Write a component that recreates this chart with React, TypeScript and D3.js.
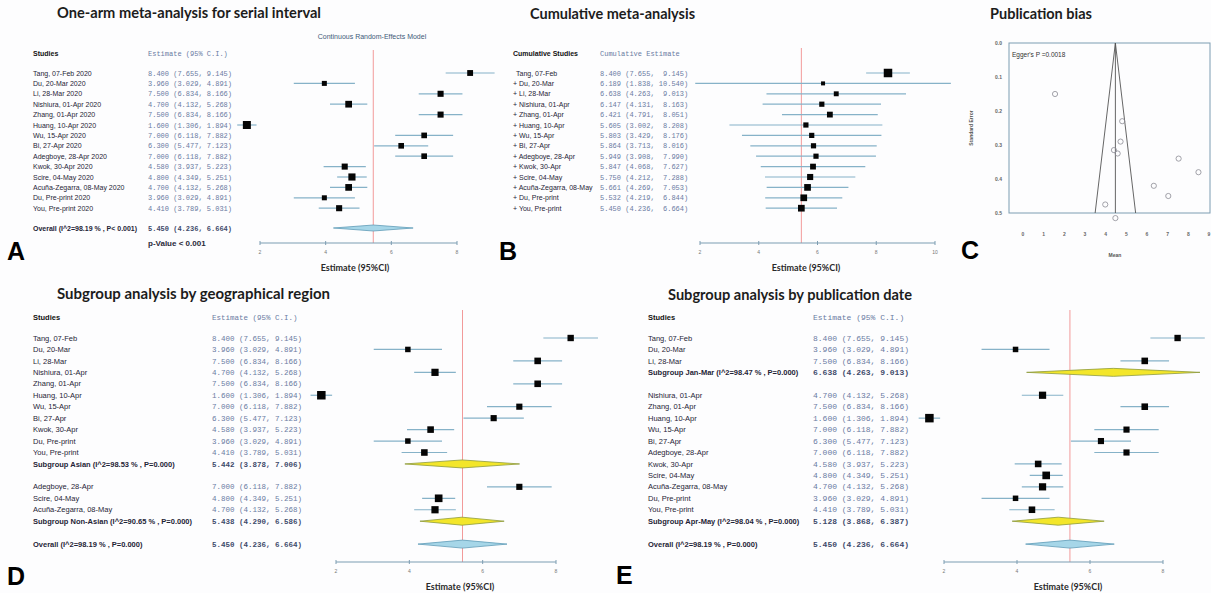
import * as d3 from 'd3'

// ---- study level data (serial interval, days) ----
const studyNames = ['Tang, 07-Feb', 'Du, 20-Mar', 'Li, 28-Mar', 'Nishiura, 01-Apr', 'Zhang, 01-Apr', 'Huang, 10-Apr', 'Wu, 15-Apr', 'Bi, 27-Apr', 'Adegboye, 28-Apr', 'Kwok, 30-Apr', 'Scire, 04-May', 'Acuña-Zegarra, 08-May', 'Du, Pre-print', 'You, Pre-print']
const estimate = [8.4, 3.96, 7.5, 4.7, 7.5, 1.6, 7.0, 6.3, 7.0, 4.58, 4.8, 4.7, 3.96, 4.41]
const lower = [7.655, 3.029, 6.834, 4.132, 6.834, 1.306, 6.118, 5.477, 6.118, 3.937, 4.349, 4.132, 3.029, 3.789]
const upper = [9.145, 4.891, 8.166, 5.268, 8.166, 1.894, 7.882, 7.123, 7.882, 5.223, 5.251, 5.268, 4.891, 5.031]
const weight = [7.0, 6.6, 7.1, 7.4, 7.1, 8.0, 6.9, 6.9, 6.9, 7.1, 7.6, 7.4, 6.6, 7.1]

// cumulative meta-analysis
const cumEstimate = [8.4, 6.189, 6.638, 6.147, 6.421, 5.605, 5.803, 5.864, 5.949, 5.847, 5.75, 5.661, 5.532, 5.45]
const cumLower = [7.655, 1.838, 4.263, 4.131, 4.791, 3.002, 3.429, 3.713, 3.908, 4.068, 4.212, 4.269, 4.219, 4.236]
const cumUpper = [9.145, 10.54, 9.013, 8.163, 8.051, 8.208, 8.176, 8.016, 7.99, 7.627, 7.288, 7.053, 6.844, 6.664]
const cumWeight = [9.5, 2, 3.5, 4, 5, 4, 4, 4, 4, 5, 5.5, 6.5, 6.5, 6.5]

// pooled
const overall = [5.45, 4.236, 6.664]
const overallI2 = 98.19

// subgroups by region
const regionNames = ['Asian', 'Non-Asian']
const regionMembers = [[0, 1, 2, 3, 4, 5, 6, 7, 9, 12, 13], [8, 10, 11]]
const regionI2 = [98.53, 90.65]
const regionEstimate = [5.442, 5.438]
const regionLower = [3.878, 4.29]
const regionUpper = [7.006, 6.586]

// subgroups by publication date
const periodNames = ['Jan-Mar', 'Apr-May']
const periodMembers = [[0, 1, 2], [3, 4, 5, 6, 7, 8, 9, 10, 11, 12, 13]]
const periodI2 = [98.47, 98.04]
const periodEstimate = [6.638, 5.128]
const periodLower = [4.263, 3.868]
const periodUpper = [9.013, 6.387]

// funnel plot
const funnelMean = [1.55, 4.8, 4.72, 4.4, 4.58, 3.98, 4.47, 6.33, 7.03, 7.53, 8.49]
const funnelSE = [0.15, 0.23, 0.29, 0.315, 0.325, 0.475, 0.515, 0.42, 0.45, 0.34, 0.38]
const funnelCentre = 4.47
const eggerP = '0.0018'

const fmt = d3.format('.3f')
const ciText = (e, l, h) => `${fmt(e)} (${fmt(l)}, ${fmt(h)})`
const ciPad = (e, l, h) => `${fmt(e)} (${fmt(l)}, ${fmt(h).padStart(6)})`

const SANS = "'Liberation Sans', Arial, sans-serif"
const MONO = "'Liberation Mono', 'DejaVu Sans Mono', monospace"
const TITLE = "Lato, 'Open Sans', sans-serif"
const LABEL_C = '#1f2436'
const VALUE_C = '#6a7ba2'
const CI_C = '#86b2c8'
const AXIS_C = '#7d9db2'
const RED = '#f29a9a'

function groupedRows(names, members, i2, est, lo, hi) {
  const rows = []
  names.forEach((n, g) => {
    members[g].forEach((i) => rows.push({ label: studyNames[i], est: estimate[i], lo: lower[i], hi: upper[i], kind: 'study', w: weight[i] }))
    rows.push({ label: `Subgroup ${n} (I^2=${i2[g].toFixed(2)} % , P=0.000)`, est: est[g], lo: lo[g], hi: hi[g], kind: 'sub' })
    rows.push(null)
  })
  rows.pop()
  rows.push(null)
  rows.push({ label: `Overall (I^2=${overallI2} % , P=0.000)`, est: overall[0], lo: overall[1], hi: overall[2], kind: 'overall' })
  return rows
}

function Title({ x, y, text, width }) {
  return (
    <text x={x} y={y} fontFamily={TITLE} fontWeight={700} fontSize={14.5} fill="#1c1c1c" textLength={width} lengthAdjust="spacingAndGlyphs">
      {text}
    </text>
  )
}

function Letter({ x, y, text }) {
  return (
    <text x={x} y={y} fontFamily={SANS} fontWeight={700} fontSize={25} fill="#000">
      {text}
    </text>
  )
}

function Forest({ rows, domain, range, ticks, axisY, refTop, diamondH, labelX }) {
  const x = d3.scaleLinear().domain(domain).range(range)
  return (
    <g>
      <line x1={x(overall[0])} x2={x(overall[0])} y1={refTop} y2={axisY} stroke={RED} strokeWidth={1} />
      {rows.map((r, i) => {
        if (r.kind === 'study') {
          const s = r.size
          return (
            <g key={i}>
              <line x1={x(r.lo)} x2={x(r.hi)} y1={r.y} y2={r.y} stroke={CI_C} strokeWidth={1.2} />
              <rect x={x(r.est) - s / 2} y={r.y - s / 2} width={s} height={s} fill="#050505" />
            </g>
          )
        }
        const h = diamondH
        const path = `M${x(r.lo)},${r.y}L${x(r.est)},${r.y - h}L${x(r.hi)},${r.y}L${x(r.est)},${r.y + h}Z`
        return (
          <path
            key={i}
            d={path}
            fill={r.kind === 'sub' ? '#f3e62a' : '#a6d6e8'}
            stroke={r.kind === 'sub' ? '#8d9a3c' : '#5f9cb8'}
            strokeWidth={0.8}
          />
        )
      })}
      <line x1={range[0]} x2={range[1]} y1={axisY} y2={axisY} stroke={AXIS_C} strokeWidth={1.2} />
      {ticks.map((t) => (
        <g key={t}>
          <line x1={x(t)} x2={x(t)} y1={axisY - 2} y2={axisY + 2} stroke={AXIS_C} strokeWidth={1} />
          <text x={x(t)} y={axisY + 11} textAnchor="middle" fontFamily={SANS} fontSize={5} fill="#777">
            {t}
          </text>
        </g>
      ))}
      <text x={labelX} y={axisY + 28} textAnchor="middle" fontFamily={TITLE} fontWeight={700} fontSize={9} fill="#2a2a2a">
        Estimate (95%CI)
      </text>
    </g>
  )
}

function Table({ rows, labelX, valueX, headerY, header, valueHeader, labelSize, valueSize }) {
  return (
    <g>
      <text x={labelX} y={headerY} fontFamily={SANS} fontWeight={700} fontSize={labelSize} fill="#111">
        {header}
      </text>
      <text x={valueX} y={headerY} fontFamily={MONO} fontSize={valueSize} fill={VALUE_C} style={{ whiteSpace: 'pre' }}>
        {valueHeader}
      </text>
      {rows.map((r, i) => {
        const bold = r.kind !== 'study'
        return (
          <g key={i}>
            <text x={labelX + (r.dx || 0)} y={r.y + 2.6} fontFamily={SANS} fontWeight={bold ? 700 : 400} fontSize={labelSize} fill={LABEL_C}>
              {r.label}
            </text>
            <text x={valueX} y={r.y + 2.6} fontFamily={MONO} fontWeight={bold ? 700 : 400} fontSize={valueSize} fill={bold ? '#3e4a6a' : VALUE_C} style={{ whiteSpace: 'pre' }}>
              {r.value}
            </text>
          </g>
        )
      })}
    </g>
  )
}

export default function App() {
  const sizeA = d3.scaleLinear().domain([6.6, 8.0]).range([5, 8])
  const sizeD = d3.scaleLinear().domain([6.6, 8.0]).range([5.5, 8.5])
  const sizeB = d3.scaleLinear().domain([2, 9.5]).range([4, 8.5])

  // panel A rows
  const yA = (i) => 73 + i * 10.4
  const rowsA = studyNames.map((n, i) => ({
    y: yA(i), label: `${n} 2020`, value: ciText(estimate[i], lower[i], upper[i]),
    est: estimate[i], lo: lower[i], hi: upper[i], kind: 'study', size: sizeA(weight[i]),
  }))
  rowsA.push({ y: 228, label: `Overall (I^2=${overallI2} % , P< 0.001)`, value: ciText(overall[0], overall[1], overall[2]), est: overall[0], lo: overall[1], hi: overall[2], kind: 'overall' })

  // panel B rows
  const rowsB = studyNames.map((n, i) => ({
    y: yA(i), label: i === 0 ? n : `+ ${n}`, dx: i === 0 ? 3 : 0,
    value: ciPad(cumEstimate[i], cumLower[i], cumUpper[i]),
    est: cumEstimate[i], lo: cumLower[i], hi: cumUpper[i], kind: 'study', size: sizeB(cumWeight[i]),
  }))

  // panels D and E rows
  const yD = (i) => 338 + i * 11.45
  const toRows = (list) =>
    list
      .map((r, i) => (r ? { ...r, y: yD(i), value: ciText(r.est, r.lo, r.hi), size: r.w ? sizeD(r.w) : 0 } : null))
      .filter(Boolean)
  const rowsD = toRows(groupedRows(regionNames, regionMembers, regionI2, regionEstimate, regionLower, regionUpper))
  const rowsE = toRows(groupedRows(periodNames, periodMembers, periodI2, periodEstimate, periodLower, periodUpper))

  // funnel scales
  const xC = d3.scaleLinear().domain([0, 9]).range([1023, 1209])
  const yC = d3.scaleLinear().domain([0, 0.5]).range([43, 213])
  const half = 1.96 * 0.5

  return (
    <div style={{ position: 'absolute', left: 0, top: 0 }}>
      <svg width={1211} height={593} style={{ display: 'block', background: '#fdfdfe' }}>
        {/* A */}
        <Title x={57} y={18} text="One-arm meta-analysis for serial interval" width={264} />
        <text x={372} y={38.5} textAnchor="middle" fontFamily={SANS} fontSize={7} fill="#3d5a78">
          Continuous Random-Effects Model
        </text>
        <Table rows={rowsA} labelX={33} valueX={148} headerY={56} header="Studies" valueHeader="Estimate (95% C.I.)" labelSize={7} valueSize={7} />
        <text x={148} y={246} fontFamily={SANS} fontWeight={700} fontSize={8} fill="#2a2a3a">
          p-Value &lt; 0.001
        </text>
        <Forest rows={rowsA} domain={[2, 8]} range={[260, 457]} ticks={[2, 4, 6, 8]} axisY={243} refTop={50} diamondH={3} labelX={355} />
        <Letter x={7} y={260} text="A" />

        {/* B */}
        <Title x={530} y={19} text="Cumulative meta-analysis" width={165} />
        <Table rows={rowsB} labelX={513} valueX={600} headerY={56} header="Cumulative Studies" valueHeader="Cumulative Estimate" labelSize={7} valueSize={7} />
        <Forest rows={rowsB} domain={[2, 10]} range={[700, 935]} ticks={[2, 4, 6, 8, 10]} axisY={243} refTop={48} diamondH={3} labelX={806} />
        <Letter x={499} y={260} text="B" />

        {/* C */}
        <Title x={990} y={19} text="Publication bias" width={102} />
        <rect x={1009} y={yC(0)} width={201} height={yC(0.5) - yC(0)} fill="none" stroke={AXIS_C} strokeWidth={1} />
        <line x1={xC(funnelCentre)} x2={xC(funnelCentre)} y1={yC(0)} y2={yC(0.5)} stroke="#555" strokeWidth={0.9} />
        <line x1={xC(funnelCentre)} x2={xC(funnelCentre - half)} y1={yC(0)} y2={yC(0.5)} stroke="#555" strokeWidth={0.9} />
        <line x1={xC(funnelCentre)} x2={xC(funnelCentre + half)} y1={yC(0)} y2={yC(0.5)} stroke="#555" strokeWidth={0.9} />
        {funnelMean.map((m, i) => (
          <circle key={i} cx={xC(m)} cy={yC(funnelSE[i])} r={2.6} fill="none" stroke="#8c8c94" strokeWidth={0.8} />
        ))}
        {d3.range(0, 0.51, 0.1).map((t) => (
          <text key={t} x={1002} y={yC(t) + 2} textAnchor="end" fontFamily={SANS} fontWeight={700} fontSize={5} fill="#666">
            {t.toFixed(1)}
          </text>
        ))}
        {d3.range(0, 10).map((t) => (
          <text key={t} x={xC(t)} y={236} textAnchor="middle" fontFamily={SANS} fontWeight={700} fontSize={5} fill="#666">
            {t}
          </text>
        ))}
        <text x={1012} y={57} fontFamily={SANS} fontSize={6.5} fill="#333">
          Egger's P ={eggerP}
        </text>
        <text transform="translate(973,128) rotate(-90)" textAnchor="middle" fontFamily={SANS} fontWeight={700} fontSize={5} fill="#555">
          Standard Error
        </text>
        <text x={1115} y={257} textAnchor="middle" fontFamily={SANS} fontWeight={700} fontSize={5} fill="#555">
          Mean
        </text>
        <Letter x={961} y={259} text="C" />

        {/* D */}
        <Title x={57} y={299} text="Subgroup analysis by geographical region" width={273} />
        <Table rows={rowsD} labelX={33} valueX={212} headerY={319.5} header="Studies" valueHeader="Estimate (95% C.I.)" labelSize={7.5} valueSize={7.5} />
        <Forest rows={rowsD} domain={[2, 8]} range={[336, 556]} ticks={[2, 4, 6, 8]} axisY={562} refTop={310} diamondH={4} labelX={460} />
        <Letter x={7} y={585} text="D" />

        {/* E */}
        <Title x={668} y={300} text="Subgroup analysis by publication date" width={244} />
        <Table rows={rowsE} labelX={648} valueX={813} headerY={319.5} header="Studies" valueHeader="Estimate (95% C.I.)" labelSize={7.5} valueSize={8} />
        <Forest rows={rowsE} domain={[2, 8]} range={[944, 1163]} ticks={[2, 4, 6, 8]} axisY={562} refTop={310} diamondH={4} labelX={1068} />
        <Letter x={616} y={584} text="E" />
      </svg>
    </div>
  )
}
